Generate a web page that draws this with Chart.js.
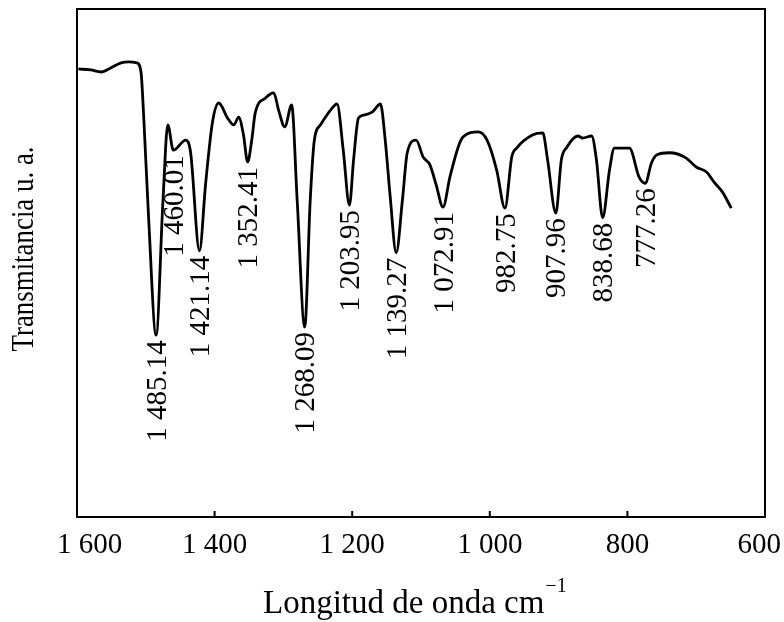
<!DOCTYPE html>
<html>
<head>
<meta charset="utf-8">
<title>Espectro IR</title>
<script src="https://cdn.jsdelivr.net/npm/chart.js@4.4.1/dist/chart.umd.min.js"></script>
<style>
	html, body { margin: 0; padding: 0; background: #fff; }
	#wrap { width: 784px; height: 622px; }
</style>
</head>
<body>
<div id="wrap"><canvas id="chart" width="784" height="622"></canvas></div>
<script>

// Spectrum (wavenumber in cm-1, transmittance in arbitrary units 0-100)
const wavenumbers = [
	1598, 1580, 1565, 1551, 1536, 1525, 1513, 1507, 1503, 1496,
	1485, 1475, 1468, 1460, 1442, 1435, 1422, 1413, 1403, 1394,
	1381, 1372, 1365, 1358, 1352, 1346, 1341, 1326, 1314, 1307,
	1298, 1288, 1280, 1269, 1261, 1255, 1246, 1225, 1222, 1213,
	1204, 1198, 1191, 1184, 1171, 1159, 1152, 1145, 1136, 1127,
	1120, 1107, 1097, 1087, 1078, 1068, 1058, 1046, 1039, 1017,
	1004, 990, 978, 968, 961, 938, 923, 916, 904, 896,
	888, 872, 865, 852, 845, 836, 826, 819, 797, 783,
	774, 765, 757, 739, 715, 700, 685, 674, 662, 649
];

const transmittance = [
	88.2, 88.0, 87.6, 88.4, 89.4, 89.6, 89.4, 87.6, 78.7, 59.1,
	35.8, 62.4, 77.2, 72.2, 74.2, 71.9, 52.4, 65.7, 77.8, 81.5,
	78.5, 77.2, 78.7, 75.2, 69.9, 74.2, 79.5, 82.5, 83.5, 80.1,
	76.8, 81.1, 62.4, 37.4, 62.4, 74.2, 77.2, 81.1, 81.3, 72.2,
	61.4, 70.3, 78.5, 79.1, 79.7, 81.3, 74.2, 63.4, 52.0, 62.4,
	71.7, 74.2, 70.9, 69.3, 65.4, 61.0, 66.9, 72.8, 74.8, 75.8,
	74.2, 68.3, 60.8, 70.9, 72.6, 75.2, 75.6, 70.3, 59.8, 70.3,
	72.8, 75.0, 74.6, 75.0, 70.3, 58.9, 68.3, 72.6, 72.6, 66.9,
	65.7, 69.7, 71.3, 71.7, 70.7, 68.9, 67.9, 65.9, 64.0, 60.8
];

// Axis ticks
const xTickValues = [1600, 1400, 1200, 1000, 800, 600];
const xTickLabels = ['1 600', '1 400', '1 200', '1 000', '800', '600'];

// Band labels and the wavenumber of the minimum (in the data) they hang from
const peakLabels = ['1 485.14', '1 460.01', '1 421.14', '1 352.41', '1 268.09', '1 203.95',
	'1 139.27', '1 072.91', '982.75', '907.96', '838.68', '777.26'];
const peakAt = [1485, 1460, 1422, 1352, 1269, 1204, 1136, 1068, 978, 904, 836, 774];

const xTitle = 'Longitud de onda cm';
const xTitleSup = '\u22121';
const yTitle = 'Transmitancia u. a.';

const SERIF = '"Liberation Serif", "Times New Roman", serif';


/**
 * Draws the frame, inward ticks, tick labels, band labels and axis titles
 */
const decorations = {
	id: 'decorations',
	afterDraw(chart) {

		const ctx = chart.ctx;
		const area = chart.chartArea;
		const xs = chart.scales.x;
		const ys = chart.scales.y;

		ctx.save();
		ctx.fillStyle = '#000';
		ctx.strokeStyle = '#000';

		// Frame
		ctx.lineWidth = 2;
		ctx.strokeRect(area.left, area.top, area.right - area.left, area.bottom - area.top);

		// Tick marks pointing into the plot
		for(let v of xTickValues){
			let px = xs.getPixelForValue(v);
			ctx.beginPath();
			ctx.moveTo(px, area.bottom);
			ctx.lineTo(px, area.bottom - 6);
			ctx.stroke();
		}

		// Tick labels, kept inside the page edges
		ctx.font = '29px ' + SERIF;
		ctx.textAlign = 'left';
		ctx.textBaseline = 'alphabetic';
		for(let [i, v] of xTickValues.entries()){
			let label = xTickLabels[i];
			let w = ctx.measureText(label).width;
			let left = xs.getPixelForValue(v) - w / 2;
			left = Math.max(57, Math.min(left, 781 - w));
			ctx.fillText(label, left, 553);
		}

		// Band labels, written upwards and ending just below each minimum
		ctx.font = '29px ' + SERIF;
		ctx.textAlign = 'right';
		ctx.textBaseline = 'middle';
		for(let [i, label] of peakLabels.entries()){
			let idx = wavenumbers.indexOf(peakAt[i]);
			let px = xs.getPixelForValue(peakAt[i]);
			let py = ys.getPixelForValue(transmittance[idx]);
			ctx.save();
			ctx.translate(px + 2, py + 5);
			ctx.rotate(-Math.PI / 2);
			ctx.fillText(label, 0, 0);
			ctx.restore();
		}

		// X axis title with superscript
		ctx.textAlign = 'left';
		ctx.textBaseline = 'alphabetic';
		ctx.font = '33px ' + SERIF;
		ctx.fillText(xTitle, 263, 613);
		let tw = ctx.measureText(xTitle).width;
		ctx.font = '20px ' + SERIF;
		ctx.fillText(xTitleSup, 263 + tw + 1, 592);

		// Y axis title (slightly condensed along its length)
		ctx.font = '32px ' + SERIF;
		ctx.textAlign = 'center';
		ctx.textBaseline = 'middle';
		ctx.save();
		ctx.translate(25, 249);
		ctx.rotate(-Math.PI / 2);
		ctx.scale(0.84, 1);
		ctx.fillText(yTitle, 0, 0);
		ctx.restore();

		ctx.restore();
	}
};


let points = wavenumbers.map((w, i) => ({ x: w, y: transmittance[i] }));

new Chart(document.getElementById('chart'), {
	type: 'line',
	data: {
		datasets: [{
			data: points,
			borderColor: '#000',
			borderWidth: 2.8,
			pointRadius: 0,
			fill: false,
			cubicInterpolationMode: 'monotone'
		}]
	},
	options: {
		responsive: false,
		animation: false,
		layout: {
			padding: { left: 77, right: 19, top: 9, bottom: 105 }
		},
		plugins: {
			legend: { display: false },
			tooltip: { enabled: false }
		},
		scales: {
			x: {
				type: 'linear',
				reverse: true,
				min: 600,
				max: 1600,
				display: false
			},
			y: {
				min: 0,
				max: 100,
				display: false
			}
		}
	},
	plugins: [decorations]
});
</script>
</body>
</html>
